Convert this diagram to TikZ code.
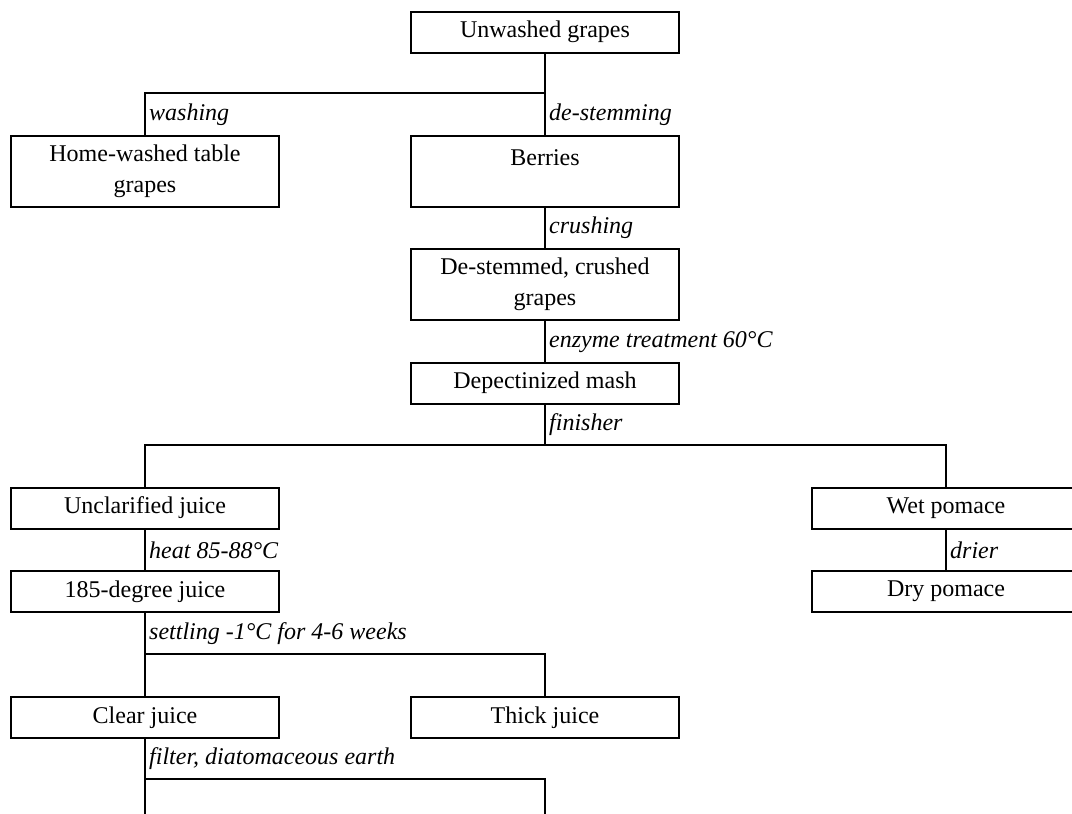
\documentclass[tikz,border=0pt]{standalone}
\usepackage{fontspec}
\setmainfont{Liberation Serif}
\begin{document}
\begin{tikzpicture}[x=1pt,y=-1pt,
  box/.style={draw,line width=2pt,minimum width=268pt,minimum height=41pt,inner sep=0pt,align=center,font=\fontsize{24}{31}\selectfont},
  tall/.style={box,minimum height=71pt},
  lbl/.style={anchor=west,inner sep=0pt,font=\fontsize{24}{29}\selectfont\itshape},
  conn/.style={line width=2pt}]
\useasboundingbox (0,0) rectangle (1072,814);
\clip (0,0) rectangle (1072,814);
% nodes
\node[box] (A) at (545,32) {Unwashed grapes};
\node[tall] (H) at (145,171.5) {Home-washed table\\grapes};
\node[tall] (B) at (545,171.5) {};
\node[font=\fontsize{24}{29}\selectfont,anchor=base] (Bt) at (545,165) {Berries};
\node[tall] (C) at (545,284.5) {De-stemmed, crushed\\grapes};
\node[box] (D) at (545,383) {Depectinized mash};
\node[box] (U) at (145,508) {Unclarified juice};
\node[box] (W) at (946,508) {Wet pomace};
\node[box] (J) at (145,591.5) {185-degree juice};
\node[box] (P) at (946,591.5) {Dry pomace};
\node[box] (CJ) at (145,717.5) {Clear juice};
\node[box] (T) at (545,717.5) {Thick juice};
\coordinate (E1) at (145,840);
\coordinate (E2) at (545,840);
% connectors
\draw[conn] (A.south) -- (545,93) coordinate (j1) -| (H.north);
\draw[conn] (j1) -- (B.north);
\draw[conn] (B.south) -- (C.north);
\draw[conn] (C.south) -- (D.north);
\draw[conn] (D.south) -- (545,445) coordinate (j2) -| (U.north);
\draw[conn] (j2) -| (W.north);
\draw[conn] (U.south) -- (J.north);
\draw[conn] (W.south) -- (P.north);
\draw[conn] (J.south) -- (145,654) coordinate (j3) -- (CJ.north);
\draw[conn] (j3) -| (T.north);
\draw[conn] (CJ.south) -- (145,779) coordinate (j4) -- (E1);
\draw[conn] (j4) -| (E2);
% labels
\node[lbl] (l1) at (149,115) {washing};
\node[lbl] (l2) at (549,115) {de-stemming};
\node[lbl] (l3) at (549,228) {crushing};
\node[lbl] (l4) at (549,342) {enzyme treatment 60°C};
\node[lbl] (l5) at (549,425) {finisher};
\node[lbl] (l6) at (149,550) {heat 85-88°C};
\node[lbl] (l7) at (950,550) {drier};
\node[lbl] (l8) at (149,634) {settling -1°C for 4-6 weeks};
\node[lbl] (l9) at (149,759) {filter, diatomaceous earth};
\end{tikzpicture}
\end{document}
